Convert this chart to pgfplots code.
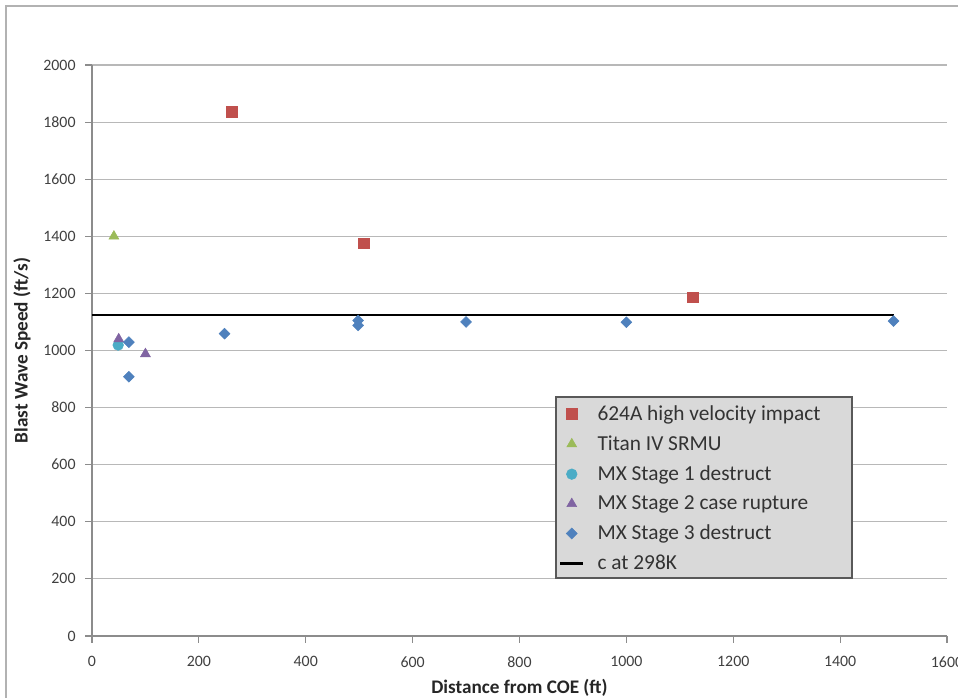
\documentclass[border=0pt]{standalone}
\usepackage{fontspec}
\setmainfont{Carlito}
\usepackage{pgfplots}
\pgfplotsset{compat=1.18}
\definecolor{cred}{HTML}{C0504D}
\definecolor{cgreen}{HTML}{9BBB59}
\definecolor{ccyan}{HTML}{4BACC6}
\definecolor{cpurple}{HTML}{8064A2}
\definecolor{cblue}{HTML}{4F81BD}
\begin{document}
\begin{tikzpicture}
\useasboundingbox (0,0) rectangle (718.5pt,523.5pt);
\draw[black!30, line width=1.5pt] (4.5pt,-2pt) -- (4.5pt,519pt) -- (720pt,519pt);
\begin{axis}[
  at={(69pt,46.5pt)}, anchor=south west,
  scale only axis, width=641.25pt, height=428.25pt,
  xmin=0, xmax=1600, ymin=0, ymax=2000,
  xtick={0,200,...,1600}, ytick={0,200,...,2000},
  axis lines*=left,
  axis line style={-, black!45, line width=0.8pt},
  tick align=outside, major tick length=5pt,
  tick style={black!45, line width=0.8pt},
  ymajorgrids, grid style={black!28, line width=0.8pt},
  /pgf/number format/assume math mode=true,
  /pgf/number format/1000 sep={},
  tick label style={font=\fontsize{11.9}{14}\selectfont, text=black!75},
  yticklabel style={xshift=-3.8pt},
  xticklabel style={yshift=-7pt},
  xlabel={Distance from COE (ft)},
  ylabel={Blast Wave Speed (ft/s)},
  xlabel style={at={(axis description cs:0.5,-0.0911)}, anchor=center, font=\fontsize{14.4}{17}\selectfont\bfseries, text=black!85},
  ylabel style={at={(axis description cs:-0.0819,0.5)}, anchor=center, rotate=0, font=\fontsize{14.4}{17}\selectfont\bfseries, text=black!85},
  legend style={at={(rel axis cs:0.5416,0.4133)}, anchor=north west, draw=none, fill=none,
    font=\fontsize{16}{19}\selectfont, text=black!80, row sep=6pt, column sep=8pt},
  legend cell align=left,
]
\draw[fill=black!15, draw=black!65, line width=1.3pt] (rel axis cs:0.5427,0.4186) rectangle (rel axis cs:0.8889,0.1016);
\addplot[only marks, mark=square*, mark size=4pt, color=cred] coordinates {(262,1835) (509,1376) (1124,1187)};
\addlegendentry{624A high velocity impact}
\addplot[only marks, mark=triangle*, mark size=4.3pt, color=cgreen] coordinates {(41,1400)};
\addlegendentry{Titan IV SRMU}
\addplot[only marks, mark=*, mark size=4pt, color=ccyan] coordinates {(49,1019)};
\addlegendentry{MX Stage 1 destruct}
\addplot[only marks, mark=triangle*, mark size=4.3pt, color=cpurple] coordinates {(50,1040) (100,988)};
\addlegendentry{MX Stage 2 case rupture}
\addplot[only marks, mark=square*, mark size=2.9pt, mark options={rotate=45}, color=cblue] coordinates {(69,1029) (69,908) (248,1059) (498,1105) (498,1088) (700,1100) (1000,1099) (1500,1103)};
\addlegendentry{MX Stage 3 destruct}
\addplot[black, line width=1.6pt, mark=none] coordinates {(0,1125) (1500,1125)};
\addlegendentry{c at 298K}
\end{axis}
\end{tikzpicture}
\end{document}
